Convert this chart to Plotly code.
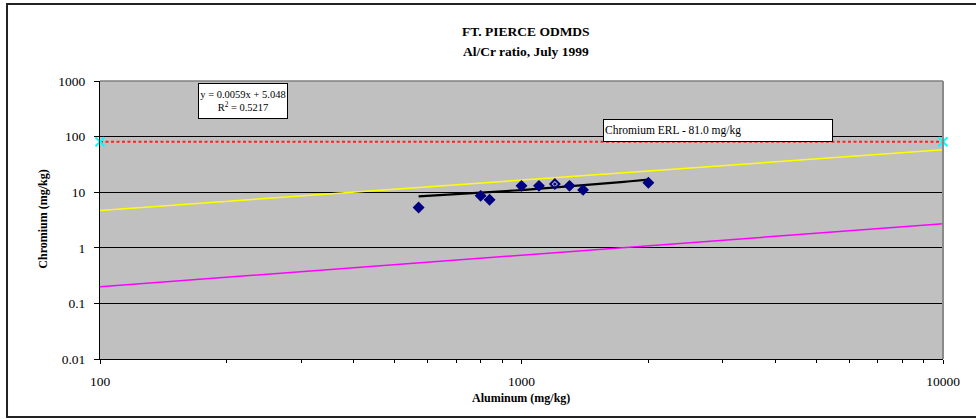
import plotly.graph_objects as go

# Sediment samples (mg/kg)
aluminum = [570, 800, 840, 1000, 1100, 1200, 1300, 1400, 2000]
chromium = [5.3, 8.6, 7.3, 13.0, 13.0, 14.0, 13.0, 11.0, 14.8]
point_symbols = ["diamond"] * 5 + ["diamond-open-dot"] + ["diamond"] * 3

# Linear trendline reported for the samples
slope = 0.0059
intercept = 5.048
r_squared = 0.5217

# Effects Range-Low for chromium
erl_value = 81.0
erl_x = [100, 10000]

# Reference ratio lines (Al, Cr) at the axis ends
upper_al = [100, 10000]
upper_cr = [4.7, 58.0]
lower_al = [100, 10000]
lower_cr = [0.2, 2.7]

x_major = [100, 1000, 10000]
x_minor = [m * d for d in (100, 1000) for m in range(2, 10)]
y_ticks = [0.01, 0.1, 1, 10, 100, 1000]
y_labels = ["0.01", "0.1", "1", "10", "100", "1000"]

FONT = "Liberation Serif, Times New Roman, serif"

trend_x = [min(aluminum) + (max(aluminum) - min(aluminum)) * i / 40 for i in range(41)]
trend_y = [slope * x + intercept for x in trend_x]

fig = go.Figure()

fig.add_trace(go.Scatter(x=upper_al, y=upper_cr, mode="lines",
                         line=dict(color="#FFFF00", width=1.5), hoverinfo="skip"))
fig.add_trace(go.Scatter(x=lower_al, y=lower_cr, mode="lines",
                         line=dict(color="#FF00FF", width=1.5), hoverinfo="skip"))
fig.add_trace(go.Scatter(x=erl_x, y=[erl_value] * len(erl_x), mode="lines+markers",
                         line=dict(color="#FF2020", width=2, dash="3px,2.5px"),
                         marker=dict(symbol="x-thin", size=9, color="#00FFFF",
                                     line=dict(color="#00FFFF", width=2)),
                         cliponaxis=False))
fig.add_trace(go.Scatter(x=trend_x, y=trend_y, mode="lines",
                         line=dict(color="black", width=2.2), hoverinfo="skip"))
fig.add_trace(go.Scatter(x=aluminum, y=chromium, mode="markers",
                         marker=dict(symbol=point_symbols, size=7, color="#000080",
                                     line=dict(color="#000080", width=2))))

fig.update_layout(
    width=976, height=419,
    margin=dict(l=100, r=33, t=81, b=60),
    paper_bgcolor="white",
    plot_bgcolor="#C0C0C0",
    showlegend=False,
    font=dict(family=FONT, size=13, color="black"),
)

fig.update_xaxes(
    type="log", range=[2, 4],
    tickvals=x_major, ticktext=[str(v) for v in x_major],
    ticks="outside", ticklen=4, tickcolor="black", tickwidth=1,
    ticklabelstandoff=6,
    showgrid=False, zeroline=False,
    showline=True, linecolor="black", linewidth=1,
    minor=dict(tickvals=x_minor, ticks="outside", ticklen=3, tickcolor="black", showgrid=False),
    tickfont=dict(family=FONT, size=13.5),
)
fig.update_yaxes(
    type="log", range=[-2, 3],
    tickvals=y_ticks, ticktext=y_labels,
    ticks="outside", ticklen=5, tickcolor="black", tickwidth=1,
    ticklabelstandoff=6,
    showgrid=True, gridcolor="black", gridwidth=1,
    zeroline=False,
    showline=True, linecolor="black", linewidth=1,
    tickfont=dict(family=FONT, size=13.5),
)

# plot-area edge (top and right) and outer chart frame
fig.add_shape(type="line", xref="paper", yref="paper", x0=0, x1=1, y0=1, y1=1,
              line=dict(color="#808080", width=1.5), layer="above")
fig.add_shape(type="line", xref="paper", yref="paper", x0=1, x1=1, y0=0, y1=1,
              line=dict(color="#8A8A8A", width=2), layer="above")
fig.add_shape(type="rect", xref="paper", yref="paper",
              x0=-0.1103, x1=1.044, y0=-0.2086, y1=1.277,
              line=dict(color="#222222", width=2), layer="above")

fig.add_annotation(
    text="<b>FT. PIERCE ODMDS</b>",
    xref="paper", yref="paper", x=0.5053, y=(359 - 32) / 278,
    xanchor="center", yanchor="middle", showarrow=False,
    font=dict(family=FONT, size=13.5),
)
fig.add_annotation(
    text="<b>Al/Cr ratio, July 1999</b>",
    xref="paper", yref="paper", x=0.5053, y=(359 - 51) / 278,
    xanchor="center", yanchor="middle", showarrow=False,
    font=dict(family=FONT, size=13.5),
)
fig.add_annotation(
    text="<b>Aluminum (mg/kg)</b>",
    xref="paper", yref="paper", x=0.4994, y=-0.140,
    xanchor="center", yanchor="middle", showarrow=False,
    font=dict(family=FONT, size=12),
)
fig.add_annotation(
    text="<b>Chromium (mg/kg)</b>",
    xref="paper", yref="paper", x=-0.068, y=0.5036, textangle=-90,
    xanchor="center", yanchor="middle", showarrow=False,
    font=dict(family=FONT, size=12),
)
fig.add_annotation(
    text=f"y = {slope}x + {intercept}<br>R<sup>2</sup> = {r_squared}",
    xref="paper", yref="paper", x=(243 - 100) / 843, y=(359 - 101) / 278,
    xanchor="center", yanchor="middle", showarrow=False, align="center",
    bgcolor="white", bordercolor="black", borderwidth=1, borderpad=1,
    width=86, height=32,
    font=dict(family=FONT, size=10.5),
)
fig.add_annotation(
    text=f"Chromium ERL - {erl_value:.1f} mg/kg",
    xref="paper", yref="paper", x=0.7331, y=0.8219,
    xanchor="center", yanchor="middle", showarrow=False, align="left",
    bgcolor="white", bordercolor="black", borderwidth=1, borderpad=1,
    width=226, height=19,
    font=dict(family=FONT, size=11.5),
)

fig.write_html("out.html")
